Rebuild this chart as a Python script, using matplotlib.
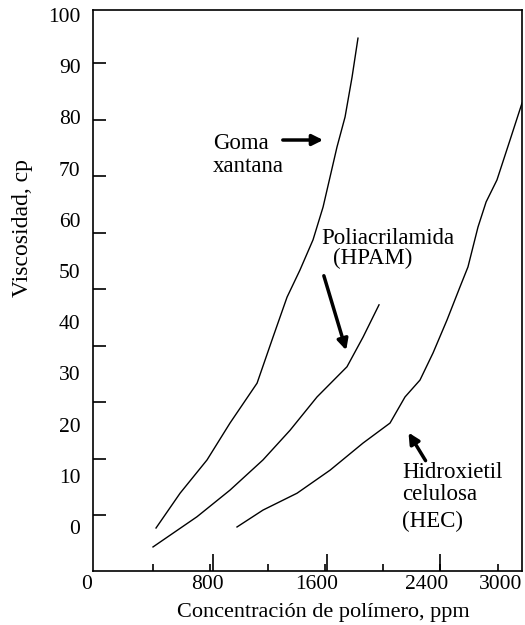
import numpy as np
import matplotlib.pyplot as plt
import matplotlib.transforms as mtransforms

plt.rcParams['font.family'] = ['Liberation Serif', 'DejaVu Serif']

# curves (concentration ppm, viscosity cp)
xantana_x = [429, 604, 800, 967, 1164, 1280, 1382, 1476, 1571, 1644, 1695, 1745, 1804, 1855, 1898]
xantana_y = [-0.2, 6.6, 13.1, 20.3, 28.1, 37.1, 44.9, 50.2, 56.1, 62.5, 68.4, 74.2, 80.1, 87.9, 95.5]

hpam_x = [407, 727, 967, 1207, 1404, 1600, 1818, 1935, 2051]
hpam_y = [-3.9, 2.0, 7.2, 13.1, 18.9, 25.4, 31.3, 37.1, 43.4]

hec_x = [1018, 1207, 1455, 1695, 1935, 2131, 2240, 2349, 2444, 2545, 2640, 2698, 2771, 2830, 2909, 3004, 3091]
hec_y = [0.0, 3.3, 6.6, 11.1, 16.4, 20.3, 25.4, 28.7, 34.0, 40.4, 46.9, 50.8, 58.6, 63.5, 67.8, 75.6, 82.8]

x_ticks = [0, 800, 1600, 2400, 3000]
y_ticks = [0, 10, 20, 30, 40, 50, 60, 70, 80, 90, 100]

fig = plt.figure(figsize=(5.25, 6.25), dpi=100)
ax = fig.add_axes([0.177, 0.0864, 0.817, 0.8976])

for xs, ys in [(xantana_x, xantana_y), (hpam_x, hpam_y), (hec_x, hec_y)]:
    ax.plot(xs, ys, color='black', lw=1.0)

ax.set_xlim(-30, 3090)
ax.set_ylim(-8.6, 101)

# the scanned axes have their tick marks off the label positions
ax.set_xticks(x_ticks)
ax.set_xticklabels([str(v) for v in x_ticks])
ax.set_xticks(np.linspace(407, 2916, 7), minor=True)
ax.tick_params(axis='x', which='major', length=0, labelsize=15.5, pad=3)
ax.tick_params(axis='x', which='minor', direction='in', length=5, width=1.2)
tall = ax.secondary_xaxis('bottom')
tall.set_xticks(np.linspace(844, 2495, 3))
tall.set_xticklabels([])
tall.tick_params(direction='in', length=12, width=1.2)
tall.spines['bottom'].set_visible(False)

labels = ax.get_xticklabels()
labels[0].set_transform(labels[0].get_transform() + mtransforms.ScaledTranslation(-0.1, 0, fig.dpi_scale_trans))
labels[-1].set_transform(labels[-1].get_transform() + mtransforms.ScaledTranslation(-0.09, 0, fig.dpi_scale_trans))

ax.set_yticks(y_ticks)
ax.set_yticklabels([str(v) for v in y_ticks])
ax.set_yticks(np.linspace(2.3, 90.6, 9), minor=True)
ax.tick_params(axis='y', which='major', length=0, labelsize=15.5, pad=9)
ax.tick_params(axis='y', which='minor', direction='in', length=9, width=1.2)

for s in ax.spines.values():
    s.set_linewidth(1.2)

ax.set_ylabel('Viscosidad, cp', fontsize=17)
ax.yaxis.set_label_coords(-0.14, 0.611)
ax.set_xlabel('Concentración de polímero, ppm', fontsize=16)
ax.xaxis.set_label_coords(0.538, -0.057)

ax.text(844, 72.7, 'Goma\nxantana', fontsize=16.5, ha='left', va='center', linespacing=1.1)
ax.annotate('', xy=(1665, 75.6), xytext=(1331, 75.6),
            arrowprops=dict(arrowstyle='-|>', lw=2.5, color='black', mutation_scale=16))

ax.text(1629, 56.4, 'Poliacrilamida', fontsize=16.5, ha='left', va='center')
ax.text(1716, 52.5, '(HPAM)', fontsize=16.5, ha='left', va='center')
ax.annotate('', xy=(1818, 34.0), xytext=(1644, 49.6),
            arrowprops=dict(arrowstyle='-|>', lw=2.5, color='black', mutation_scale=16))

ax.text(2218, 10.7, 'Hidroxietil', fontsize=16.5, ha='left', va='center')
ax.text(2218, 6.25, 'celulosa', fontsize=16.5, ha='left', va='center')
ax.text(2218, 1.0, '(HEC)', fontsize=16.5, ha='left', va='center')
ax.annotate('', xy=(2255, 18.9), xytext=(2400, 12.5),
            arrowprops=dict(arrowstyle='-|>', lw=2.5, color='black', mutation_scale=16))

fig.savefig('out.png', dpi=100)
